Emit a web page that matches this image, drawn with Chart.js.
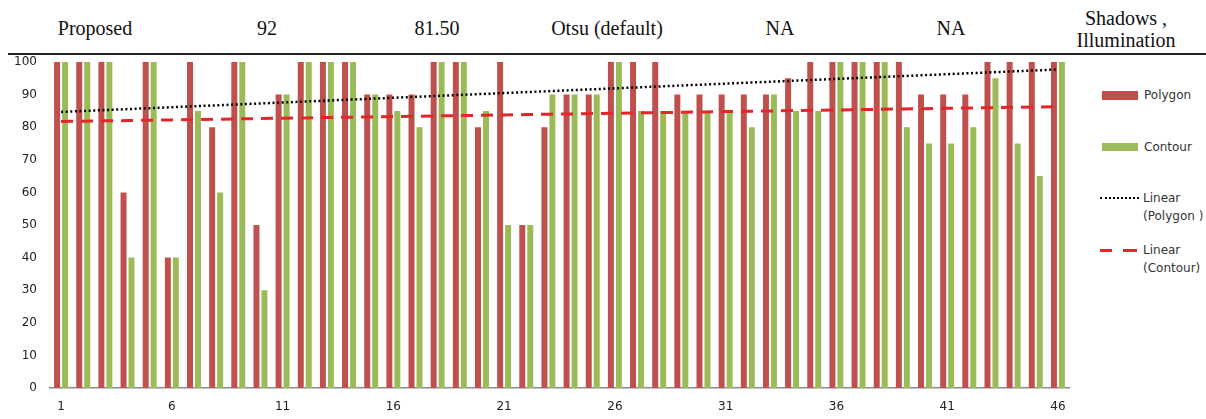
<!DOCTYPE html>
<html>
<head>
<meta charset="utf-8">
<script src="https://cdn.jsdelivr.net/npm/chart.js@4/dist/chart.umd.min.js"></script>
<style>
  html, body { margin:0; padding:0; background:#fff; }
  #wrap { position:relative; width:1206px; height:419px; overflow:hidden; background:#fff; }
  .hdr { position:absolute; font-family:"Liberation Serif","Times New Roman",serif; font-size:20px; color:#111; white-space:nowrap; transform:translateX(-50%); line-height:22px; text-align:center; }
  #rule { position:absolute; left:8px; top:53px; width:1198px; height:2px; background:#222; }
  #cv { position:absolute; left:0; top:55px; }
  .lg { position:absolute; font-family:"DejaVu Sans",sans-serif; font-size:12px; color:#333; line-height:18px; white-space:nowrap; }
  .sw { position:absolute; }
</style>
</head>
<body>
<div id="wrap">
  <div class="hdr" style="left:95px; top:17px;">Proposed</div>
  <div class="hdr" style="left:267px; top:17px;">92</div>
  <div class="hdr" style="left:437px; top:17px;">81.50</div>
  <div class="hdr" style="left:607px; top:17px;">Otsu (default)</div>
  <div class="hdr" style="left:780px; top:17px;">NA</div>
  <div class="hdr" style="left:951px; top:17px;">NA</div>
  <div class="hdr" style="left:1126px; top:7px;">Shadows ,<br>Illumination</div>
  <div id="rule"></div>
  <canvas id="cv" width="1080" height="364" style="width:1080px;height:364px;"></canvas>

  <div class="sw" style="left:1102px; top:91px; width:36px; height:9px; background:#C0504D;"></div>
  <div class="lg" style="left:1144px; top:86px;">Polygon</div>
  <div class="sw" style="left:1102px; top:143px; width:36px; height:8px; background:#9BBB59;"></div>
  <div class="lg" style="left:1144px; top:138px;">Contour</div>
  <div class="sw" style="left:1100px; top:197px; width:39px; height:0; border-top:2.5px dotted #000;"></div>
  <div class="lg" style="left:1143px; top:189px;">Linear<br>(Polygon )</div>
  <div class="sw" style="left:1100px; top:249px; width:12px; height:3px; background:#E3262A;"></div>
  <div class="sw" style="left:1123px; top:249px; width:14px; height:3px; background:#E3262A;"></div>
  <div class="lg" style="left:1143px; top:241px;">Linear<br>(Contour)</div>
</div>
<script>
const categories = ["1","2","3","4","5","6","7","8","9","10","11","12","13","14","15","16","17","18","19","20","21","22","23","24","25","26","27","28","29","30","31","32","33","34","35","36","37","38","39","40","41","42","43","44","45","46"];
const polygon = [100,100,100,60,100,40,100,80,100,50,90,100,100,100,90,90,90,100,100,80,100,50,80,90,90,100,100,100,90,90,90,90,90,95,100,100,100,100,100,90,90,90,100,100,100,100];
const contour = [100,100,100,40,100,40,85,60,100,30,90,100,100,100,90,85,80,100,100,85,50,50,90,90,90,100,85,85,85,85,85,80,90,85,85,100,100,100,80,75,75,80,95,75,65,100];
const yTicks = [0,10,20,30,40,50,60,70,80,90,100];
const xTickEvery = 5;

function linearTrend(vals) {
  const n = vals.length;
  let sx=0, sy=0, sxx=0, sxy=0;
  vals.forEach((v,i)=>{ const x=i+1; sx+=x; sy+=v; sxx+=x*x; sxy+=x*v; });
  const b = (n*sxy - sx*sy)/(n*sxx - sx*sx);
  const a = (sy - b*sx)/n;
  return vals.map((_,i)=> a + b*(i+1));
}
const trendPolygon = linearTrend(polygon);
const trendContour = linearTrend(contour);

const tickFont = { family: "DejaVu Sans", size: 12 };

new Chart(document.getElementById('cv'), {
  type: 'bar',
  data: {
    labels: categories,
    datasets: [
      { type:'line', label:'Linear (Polygon )', data: trendPolygon, borderColor:'#000', borderWidth:2.5, borderDash:[2,2.6], borderCapStyle:'butt', pointRadius:0, fill:false, order:0 },
      { type:'line', label:'Linear (Contour)', data: trendContour, borderColor:'#E3262A', borderWidth:3, borderDash:[12,8], pointRadius:0, fill:false, order:1 },
      { type:'bar', label:'Polygon', data: polygon, backgroundColor:'#C0504D', categoryPercentage:0.72, barPercentage:0.75, order:2 },
      { type:'bar', label:'Contour', data: contour, backgroundColor:'#9BBB59', categoryPercentage:0.72, barPercentage:0.75, order:3 }
    ]
  },
  options: {
    responsive: false,
    animation: false,
    layout: { padding: { top: 7, right: 11, bottom: 5, left: 0 } },
    plugins: { legend: { display:false }, tooltip: { enabled:false } },
    scales: {
      x: {
        afterFit: s => { s.height = 26; s.paddingLeft = 0; s.paddingRight = 0; },
        grid: { display:false },
        border: { display:true, color:'#8c8c8c', width:1.5 },
        ticks: {
          autoSkip:false, maxRotation:0, padding:4, color:'#222', font: tickFont,
          callback: function(v, i) { return (i % xTickEvery === 0) ? categories[i] : ''; }
        }
      },
      y: {
        min: 0, max: 100,
        afterFit: s => { s.width = 50; s.paddingTop = 0; s.paddingBottom = 0; },
        afterBuildTicks: s => { s.ticks = yTicks.map(v => ({ value: v })); },
        grid: { display:false },
        border: { display:false },
        ticks: { padding:5, color:'#222', font: tickFont }
      }
    }
  }
});
</script>
</body>
</html>
